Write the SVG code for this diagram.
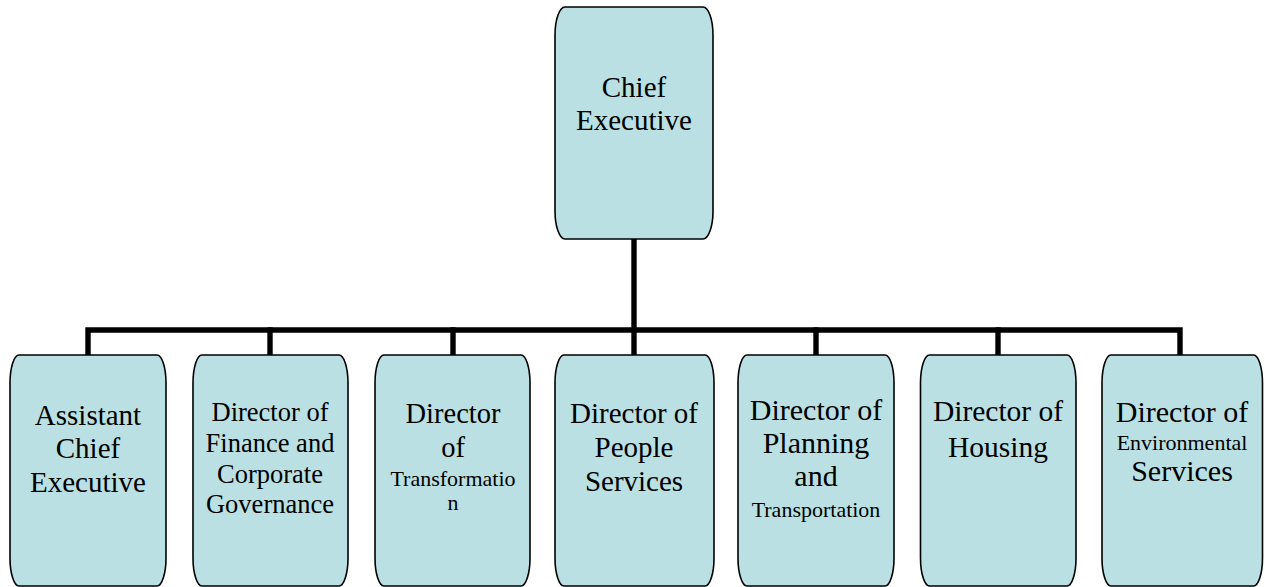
<svg xmlns="http://www.w3.org/2000/svg" width="1265" height="587" viewBox="0 0 1265 587">
  <style>
    .box { fill: #BBE0E3; stroke: #000; stroke-width: 1.6; }
    .wire { fill: none; stroke: #000; stroke-width: 5.4; stroke-linecap: square; stroke-linejoin: miter; }
  </style>
  <rect width="1265" height="587" fill="#fff"/>

  <!-- reporting lines -->
  <g id="connectors">
    <path class="wire" d="M634 239 V355"/>
    <path class="wire" d="M88 355 V330 H1180 V355"/>
    <path class="wire" d="M270 330 V355"/>
    <path class="wire" d="M453 330 V355"/>
    <path class="wire" d="M816 330 V355"/>
    <path class="wire" d="M998 330 V355"/>
  </g>

  <g font-family="'Liberation Serif', serif" text-anchor="middle" fill="#000">
    <g id="chief-executive">
      <rect class="box" x="555" y="7" width="158" height="232" rx="10" ry="28"/>
      <text font-size="29"><tspan x="634" y="97">Chief</tspan><tspan x="634" y="130">Executive</tspan></text>
    </g>

    <g id="assistant-chief-executive">
      <rect class="box" x="10" y="355" width="156" height="231" rx="9" ry="28"/>
      <text font-size="29"><tspan x="88" y="425">Assistant</tspan><tspan x="88" y="458">Chief</tspan><tspan x="88" y="492">Executive</tspan></text>
    </g>

    <g id="director-finance">
      <rect class="box" x="193" y="355" width="155" height="231" rx="9" ry="28"/>
      <text font-size="26.5"><tspan x="270" y="421">Director of</tspan><tspan x="270" y="452">Finance and</tspan><tspan x="270" y="482.5">Corporate</tspan><tspan x="270" y="513">Governance</tspan></text>
    </g>

    <g id="director-transformation">
      <rect class="box" x="375" y="355" width="155" height="231" rx="9" ry="28"/>
      <text font-size="28.5"><tspan x="453" y="423">Director</tspan><tspan x="453" y="456.5">of</tspan></text>
      <text font-size="22"><tspan x="453" y="486">Transformatio</tspan><tspan x="453" y="510">n</tspan></text>
    </g>

    <g id="director-people">
      <rect class="box" x="555" y="355" width="159" height="231" rx="9" ry="28"/>
      <text font-size="29"><tspan x="634" y="423">Director of</tspan><tspan x="634" y="456.5">People</tspan><tspan x="634" y="490.5">Services</tspan></text>
    </g>

    <g id="director-planning">
      <rect class="box" x="738" y="355" width="156" height="231" rx="9" ry="28"/>
      <text font-size="30"><tspan x="816" y="420">Director of</tspan><tspan x="816" y="452.5">Planning</tspan><tspan x="816" y="485.5">and</tspan></text>
      <text font-size="22" x="816" y="517">Transportation</text>
    </g>

    <g id="director-housing">
      <rect class="box" x="920.5" y="355" width="155.5" height="231" rx="9" ry="28"/>
      <text font-size="29.5"><tspan x="998" y="421">Director of</tspan><tspan x="998" y="456.5">Housing</tspan></text>
    </g>

    <g id="director-environmental">
      <rect class="box" x="1102" y="355" width="160.5" height="231" rx="9" ry="28"/>
      <text font-size="30" x="1182" y="422">Director of</text>
      <text font-size="22" x="1182" y="450">Environmental</text>
      <text font-size="30" x="1182" y="481">Services</text>
    </g>
  </g>
</svg>
